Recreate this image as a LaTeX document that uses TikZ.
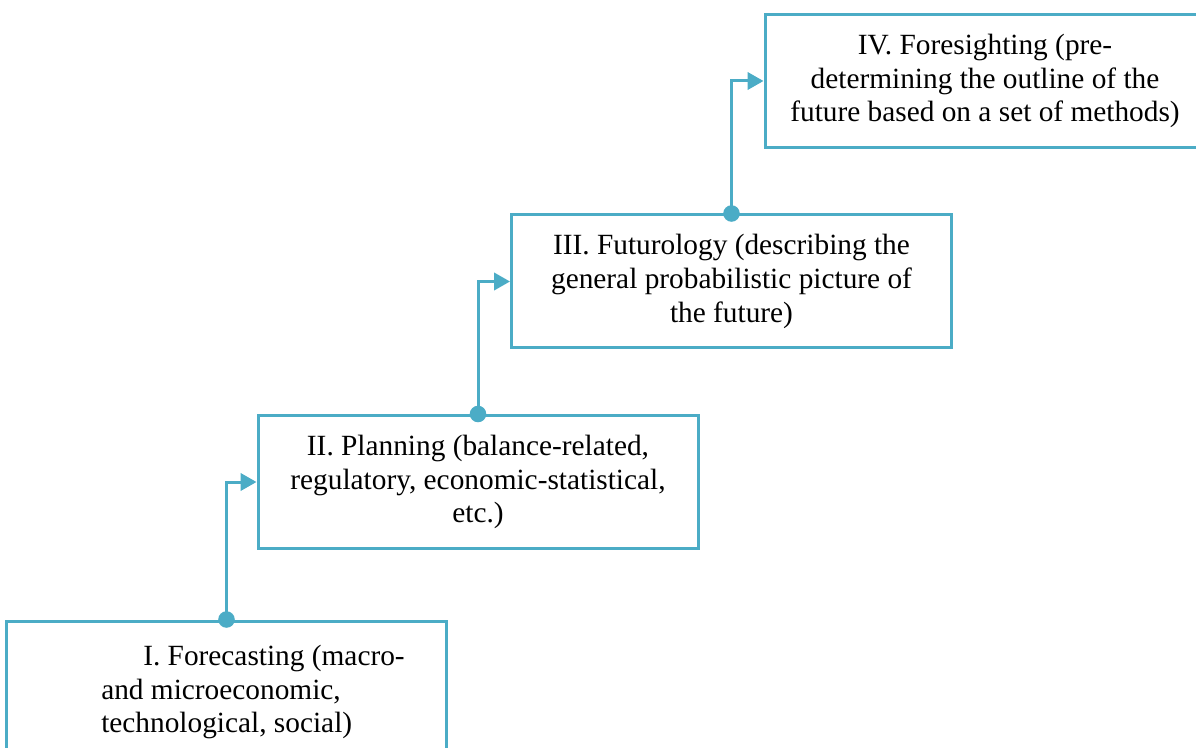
\documentclass[tikz,border=0pt]{standalone}
\usepackage{fontspec}
\setmainfont{Liberation Serif}
\usetikzlibrary{arrows.meta}
\definecolor{stageblue}{HTML}{4BACC6}

\begin{document}
\begin{tikzpicture}[x=0.75pt, y=-0.75pt,
  stage/.style={draw=stageblue, line width=2.25pt, minimum width=330pt,
    minimum height=99.75pt, inner sep=0pt, align=center,
    font=\fontsize{22}{25.3}\selectfont},
  link/.style={draw=stageblue, line width=2.25pt,
    -{Triangle[length=12pt, width=13pt]}},
  joint/.style={fill=stageblue}]
  \useasboundingbox (0,0) rectangle (1196,748);

  % Boxes
  \node[stage] (I) at (226.5,687.5) {};
  \node[anchor=west, align=left, inner sep=0pt,
    font=\fontsize{22}{25.3}\selectfont] (Itext) at (101,692)
    {\hspace*{31.5pt}I. Forecasting (macro-\\and microeconomic,\\technological, social)};
  \node[stage] (II) at (478,482) {II. Planning (balance-related,\\regulatory, economic-statistical,\\etc.)};
  \node[stage] (III) at (731.5,281.5) {III. Futurology (describing the\\general probabilistic picture of\\the future)};
  \node[stage] (IV) at (985,81) {IV. Foresighting (pre-\\determining the outline of the\\future based on a set of methods)};

  % Connectors
  \draw[link] (I.north) |- (II.west);
  \draw[link] (II.north) |- (III.west);
  \draw[link] (III.north) |- (IV.west);
  \fill[joint] (I.north) circle (6.2pt);
  \fill[joint] (II.north) circle (6.2pt);
  \fill[joint] (III.north) circle (6.2pt);
\end{tikzpicture}
\end{document}
